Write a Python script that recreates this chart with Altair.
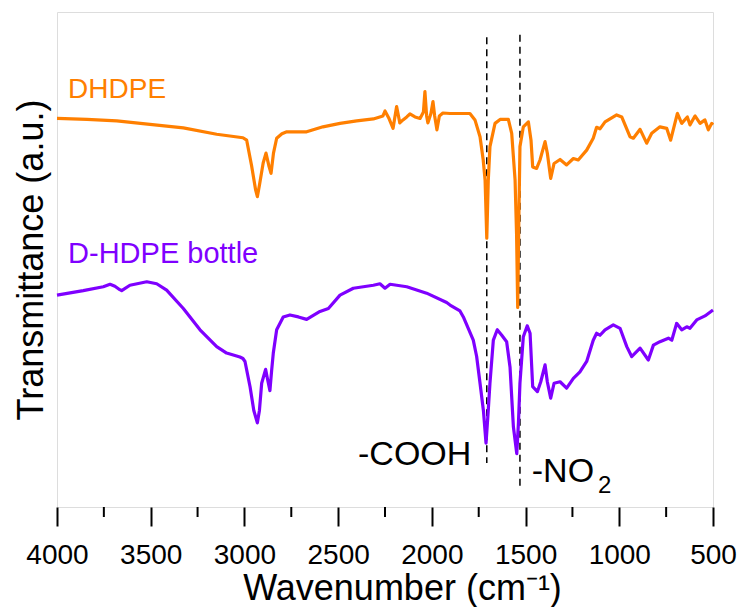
import altair as alt
import pandas as pd

# FTIR spectra: wavenumber (cm-1) and transmittance (a.u., offset for display)
dhdpe_wn = [4000, 3840, 3681, 3504, 3326, 3148, 3008, 2988, 2962, 2940, 2931, 2920, 2900, 2885,
            2870, 2858, 2845, 2828, 2800, 2774, 2668, 2581, 2490, 2401, 2312, 2261, 2250, 2230,
            2207, 2188, 2171, 2154, 2134, 2117, 2090, 2063, 2045, 2037, 2028, 2021, 2005, 1994,
            1985, 1973, 1960, 1941, 1903, 1850, 1797, 1770, 1743, 1726, 1716, 1707, 1699, 1690,
            1663, 1636, 1592, 1574, 1556, 1548, 1542, 1536, 1530, 1512, 1485, 1471, 1462, 1441,
            1423, 1396, 1384, 1366, 1348, 1316, 1281, 1245, 1219, 1174, 1139, 1121, 1103, 1076,
            1014, 987, 943, 925, 889, 854, 827, 783, 747, 726, 690, 667, 637, 623, 596, 569,
            543, 525, 507, 500]
dhdpe_t = [78.5, 78.3, 78.0, 77.3, 76.6, 75.3, 74.6, 74.1, 69.0, 64.0, 62.7, 65.0, 69.5, 71.5,
           69.0, 67.4, 71.5, 74.5, 75.4, 75.8, 75.8, 76.8, 77.5, 78.0, 78.4, 79.0, 80.0, 78.6,
           76.5, 80.9, 77.6, 78.2, 78.8, 79.4, 78.8, 78.5, 79.8, 83.9, 79.0, 77.6, 79.5, 81.9,
           79.0, 76.2, 79.0, 79.6, 79.5, 79.5, 79.5, 78.2, 74.8, 70.1, 66.0, 54.3, 66.0, 72.8,
           77.5, 78.3, 78.3, 75.5, 66.1, 55.0, 40.3, 58.0, 72.8, 76.8, 77.8, 74.1, 68.7, 68.4,
           70.1, 73.8, 71.5, 66.4, 69.4, 70.2, 69.1, 70.4, 70.1, 72.1, 74.5, 76.7, 76.4, 77.8,
           79.2, 78.8, 74.8, 74.5, 76.3, 73.5, 75.5, 76.8, 76.5, 74.1, 79.5, 77.5, 78.8, 77.2,
           79.0, 77.5, 78.2, 76.2, 77.5, 77.2]

bottle_wn = [4000, 3860, 3753, 3717, 3691, 3665, 3655, 3611, 3521, 3468, 3415, 3326, 3237, 3148,
             3095, 3024, 3008, 2997, 2970, 2950, 2931, 2920, 2908, 2887, 2875, 2864, 2855, 2846,
             2828, 2793, 2757, 2712, 2668, 2597, 2552, 2490, 2419, 2312, 2277, 2250, 2223, 2134,
             2028, 1921, 1903, 1850, 1832, 1779, 1761, 1743, 1725, 1711, 1700, 1690, 1672, 1651,
             1627, 1601, 1583, 1565, 1547, 1538, 1530, 1512, 1491, 1476, 1462, 1437, 1419, 1396,
             1384, 1366, 1348, 1316, 1281, 1245, 1210, 1174, 1139, 1121, 1103, 1076, 1032, 996,
             960, 934, 889, 845, 818, 783, 738, 720, 694, 667, 640, 623, 587, 543, 500]
bottle_t = [42.8, 43.7, 44.5, 45.0, 44.6, 43.9, 43.7, 44.8, 45.5, 45.1, 43.8, 40.1, 35.8, 32.4,
            31.1, 30.3, 30.0, 29.4, 24.3, 19.5, 17.0, 19.5, 25.0, 27.8, 25.5, 23.5, 27.5, 31.1,
            35.8, 38.4, 38.8, 38.4, 37.9, 39.5, 40.1, 42.8, 44.2, 44.8, 45.1, 44.2, 45.0, 44.5,
            43.2, 41.3, 40.8, 39.6, 38.4, 33.7, 30.4, 25.0, 19.5, 12.9, 19.0, 25.0, 33.7, 35.8,
            34.7, 33.4, 28.3, 16.2, 10.8, 17.0, 25.0, 34.4, 36.6, 35.1, 24.3, 23.3, 25.3, 28.7,
            25.3, 22.0, 25.0, 25.3, 24.0, 26.0, 27.3, 29.4, 33.7, 35.1, 34.7, 35.8, 36.8, 36.1,
            32.4, 30.4, 32.1, 29.7, 32.7, 33.4, 34.1, 33.7, 37.1, 35.8, 36.4, 36.1, 37.8, 38.6, 39.8]

# Band markers (dashed guides)
band_wn = [1707, 1530]
band_top = [94.9, 95.4]
band_bottom = [8.9, 3.8]

major_ticks = [4000, 3500, 3000, 2500, 2000, 1500, 1000, 500]
minor_ticks = [3750, 3250, 2750, 2250, 1750, 1250, 750]

ORANGE = "#FF7F00"
PURPLE = "#7F00FF"
FONT = "Liberation Sans"

x_scale = alt.Scale(domain=[500, 4000], reverse=True, nice=False, zero=False)
y_scale = alt.Scale(domain=[0, 100], nice=False, zero=False)

x_axis = alt.Axis(
    values=major_ticks, format="d", title="Wavenumber (cm⁻¹)", grid=False, domain=False,
    tickSize=19, tickWidth=2, tickColor="black", labelFontSize=28, labelPadding=15,
    labelColor="black", labelFont=FONT, titleFont=FONT, titleFontSize=36,
    titleFontWeight="normal", titleColor="black", titlePadding=2, titleX=345,
    labelFlush=False, labelOverlap=False,
)
y_axis = alt.Axis(
    title="Transmittance (a.u.)", labels=False, ticks=False, domain=False, grid=False,
    titleFont=FONT, titleFontSize=36, titleFontWeight="normal", titleColor="black",
    titlePadding=7,
)

X = alt.X("wn:Q", scale=x_scale, axis=x_axis)
Y = alt.Y("t:Q", scale=y_scale, axis=y_axis)

df_dhdpe = pd.DataFrame({"wn": dhdpe_wn, "t": dhdpe_t})
df_bottle = pd.DataFrame({"wn": bottle_wn, "t": bottle_t})
df_band = pd.DataFrame({"wn": band_wn, "t": band_top, "t2": band_bottom})
df_minor = pd.DataFrame({"wn": minor_ticks})

line_dhdpe = alt.Chart(df_dhdpe).mark_line(
    color=ORANGE, strokeWidth=3.2, strokeJoin="round"
).encode(x=X, y=Y, order="wn:Q")

line_bottle = alt.Chart(df_bottle).mark_line(
    color=PURPLE, strokeWidth=3.2, strokeJoin="round"
).encode(x=X, y=Y, order="wn:Q")

bands = alt.Chart(df_band).mark_rule(
    color="black", strokeWidth=1.5, strokeDash=[7, 5]
).encode(x=X, y=Y, y2=alt.Y2("t2:Q"))

minor = alt.Chart(df_minor).mark_rule(color="black", strokeWidth=2).encode(
    x=X, y=alt.value(495), y2=alt.value(505)
)


def label(text, wn, t, color, size):
    d = pd.DataFrame({"wn": [wn], "t": [t], "txt": [text]})
    return alt.Chart(d).mark_text(
        align="left", baseline="alphabetic", font=FONT, fontSize=size, color=color
    ).encode(x=X, y=Y, text="txt:N")


labels = [
    label("DHDPE", 3941, 82.6, ORANGE, 28),
    label("D-HDPE bottle", 3941, 49.3, PURPLE, 29),
    label("-COOH", 2394, 8.5, "black", 34),
    label("-NO", 1467, 5.1, "black", 34),
    label("2", 1114, 2.9, "black", 24),
]

chart = alt.layer(minor, bands, line_bottle, line_dhdpe, *labels).properties(
    width=656,
    height=495,
    autosize=alt.AutoSizeParams(type="none"),
    padding={"left": 57, "top": 12, "right": 31, "bottom": 100},
).configure_view(stroke="black", strokeWidth=2).configure(background="white")

chart.save("out.html", embed_options={"renderer": "svg", "actions": False})
